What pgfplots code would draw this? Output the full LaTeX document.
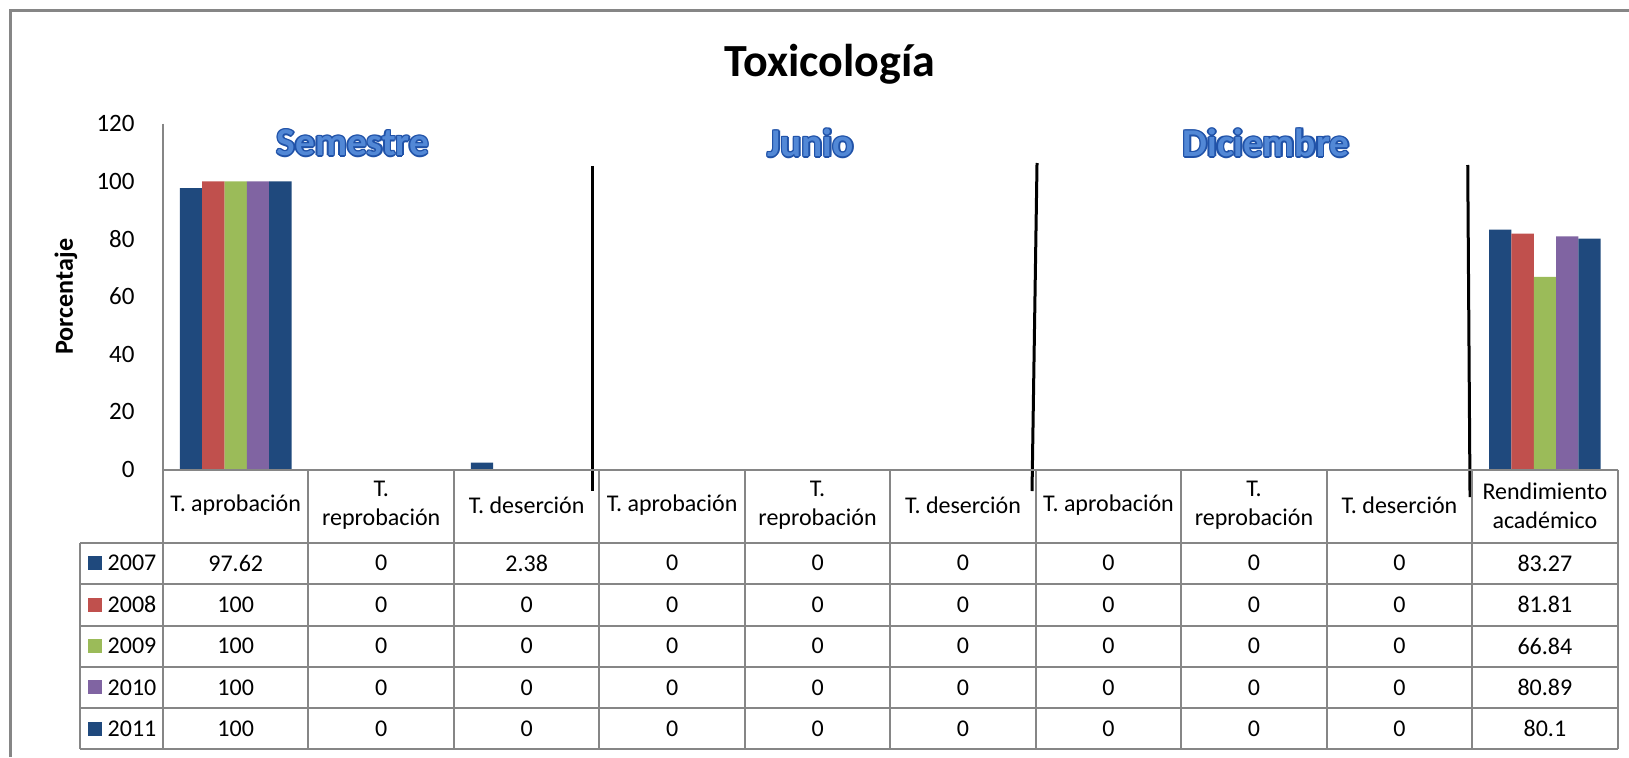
\documentclass[border=0pt]{standalone}
\usepackage{pgfplots}
\pgfplotsset{compat=1.18}
\usepackage{fontspec}
\setmainfont{Carlito}

\definecolor{c2007}{RGB}{31,73,125}
\definecolor{c2008}{RGB}{192,80,77}
\definecolor{c2009}{RGB}{155,187,89}
\definecolor{c2010}{RGB}{128,100,162}
\definecolor{c2011}{RGB}{31,73,125}
\definecolor{gridgray}{RGB}{134,134,134}
\definecolor{lblblue}{RGB}{82,136,214}
\definecolor{lbldark}{RGB}{32,82,168}

\newcommand{\grpfont}{\fontsize{11.8}{14}\bfseries\selectfont}
\newcommand{\tabfont}{\fontsize{7.2}{8.6}\selectfont}
% blue group caption with a darker rim
\newcommand{\glowlabel}[3]{%
  \foreach \dx/\dy in {1.6/0,-1.6/0,0/1.6,0/-1.6,1.1/1.1,-1.1/1.1,1.1/-1.1,-1.1/-1.1}
    \node[text=lbldark, font=\grpfont] at ([shift={(\dx,\dy)}]#1,#2) {#3};
  \node[text=lblblue, font=\grpfont] at (#1,#2) {#3};
}

\begin{document}
\begin{tikzpicture}
\useasboundingbox (0,0) rectangle (488.7pt,-227.1pt);

\begin{axis}[
    at={(48.9pt,-140.88pt)}, anchor=south west,
    scale only axis,
    width=436.38pt, height=103.8pt,
    xmin=-0.5, xmax=9.5,
    ymin=0, ymax=120,
    ytick={0,20,...,120},
    xtick=\empty,
    axis line style={draw=none},
    major tick length=0pt,
    yticklabel style={font=\fontsize{7.5}{9}\selectfont, xshift=-5pt},
    /pgf/number format/assume math mode=true,
    ybar=0pt, bar width=0.1535,
    clip=false,
]
\addplot[fill=c2007, draw=none] coordinates {(0,97.62) (1,0) (2,2.38) (3,0) (4,0) (5,0) (6,0) (7,0) (8,0) (9,83.27)};
\addplot[fill=c2008, draw=none] coordinates {(0,100) (1,0) (2,0) (3,0) (4,0) (5,0) (6,0) (7,0) (8,0) (9,81.81)};
\addplot[fill=c2009, draw=none] coordinates {(0,100) (1,0) (2,0) (3,0) (4,0) (5,0) (6,0) (7,0) (8,0) (9,66.84)};
\addplot[fill=c2010, draw=none] coordinates {(0,100) (1,0) (2,0) (3,0) (4,0) (5,0) (6,0) (7,0) (8,0) (9,80.89)};
\addplot[fill=c2011, draw=none] coordinates {(0,100) (1,0) (2,0) (3,0) (4,0) (5,0) (6,0) (7,0) (8,0) (9,80.1)};
\end{axis}

% everything else in pixel units of the reference, y downwards
\begin{scope}[x=0.3pt, y=-0.3pt]
  % chart frame (only top and left edges fall inside the picture)
  \draw[gridgray, line width=0.7pt] (10.4,757) -- (10.4,10.4) -- (1629,10.4);

  \node[font=\fontsize{13.8}{16}\bfseries\selectfont] at (830,64) {Toxicología};
  \node[font=\fontsize{7.83}{9}\bfseries\selectfont, rotate=90] at (66,296.7) {Porcentaje};

  \glowlabel{353}{143}{Semestre}
  \glowlabel{810.7}{143}{Junio}
  \glowlabel{1266}{143}{Diciembre}

  % separators between semesters
  \draw[black, line width=0.9pt] (592,166) -- (592,491);
  \draw[black, line width=0.9pt] (1037,163) -- (1032,491);
  \draw[black, line width=0.9pt] (1467.7,165) -- (1470,497);

  % data table
  \begin{scope}[gridgray, line width=0.6pt]
    \draw (163,123.6) -- (163,749.3);
    \draw (163,469.6) -- (1617.6,469.6);
    \foreach \yy in {542.5,584,625.5,667,708,749.3}
      \draw (80,\yy) -- (1617.6,\yy);
    \draw (80,542.5) -- (80,749.3);
    \foreach \i in {1,...,10}
      \draw ({163+\i*145.46},469.6) -- ({163+\i*145.46},749.3);
  \end{scope}

  \foreach \h [count=\c from 0] in {{T. aprobación},{T.\\reprobación},{T. deserción},
      {T. aprobación},{T.\\reprobación},{T. deserción},
      {T. aprobación},{T.\\reprobación},{T. deserción},{Rendimiento\\académico}}
    \node[font=\tabfont, align=center] at ({235.73+\c*145.46},505.5) {\h};

  \foreach \yr/\col/\vals [count=\r from 0] in {
      2007/c2007/{97.62,0,2.38,0,0,0,0,0,0,83.27},
      2008/c2008/{100,0,0,0,0,0,0,0,0,81.81},
      2009/c2009/{100,0,0,0,0,0,0,0,0,66.84},
      2010/c2010/{100,0,0,0,0,0,0,0,0,80.89},
      2011/c2011/{100,0,0,0,0,0,0,0,0,80.1}} {
    \fill[\col] (88,{556.2+\r*41.37}) rectangle (102,{570.2+\r*41.37});
    \node[font=\tabfont, anchor=west, inner sep=0pt] at (107,{563.2+\r*41.37}) {\yr};
    \foreach \v [count=\c from 0] in \vals
      \node[font=\tabfont] at ({235.73+\c*145.46},{563.2+\r*41.37}) {\v};
  }
\end{scope}
\end{tikzpicture}
\end{document}
